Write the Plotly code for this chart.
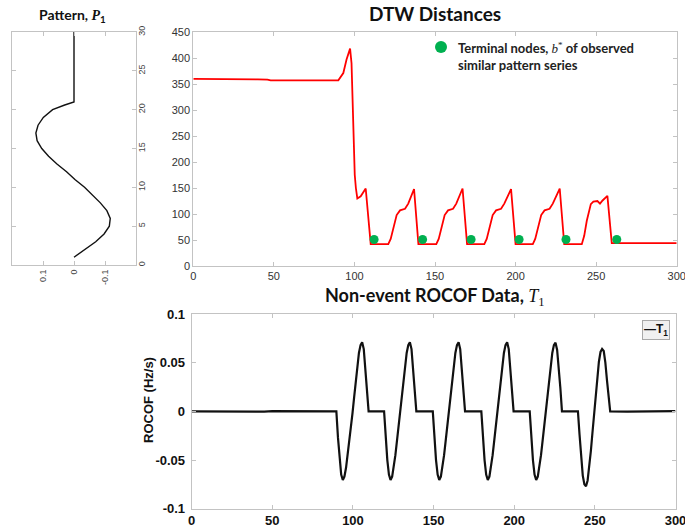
import plotly.graph_objects as go

W, H = 685, 529

# ---------------- data ----------------
# Pattern P1: ROCOF value along the pattern time index
pattern_t = [1, 2, 3, 4, 5, 6, 7, 8, 9, 10, 11, 12, 13, 14, 15, 16, 17, 18, 19, 20, 20.6, 21, 30]
pattern_v = [0, -0.037, -0.070, -0.097, -0.114, -0.117, -0.106, -0.085, -0.059, -0.034, -0.003,
             0.024, 0.055, 0.082, 0.104, 0.119, 0.123, 0.116, 0.099, 0.069, 0.030, 0, 0]

# DTW distance profile
dtw_t = [0, 20, 40, 46, 48, 90, 93.1, 95.1, 96.5, 97.3, 98.2, 98.9, 99.4, 100.2, 100.9, 101.8,
         103.9, 107.0, 110.1,
         121.0, 122.5, 124.2, 126.2, 128.3, 131.4, 133.4, 135.5, 137.0, 139.7,
         150.8, 152.3, 154.0, 156.0, 158.1, 161.2, 163.2, 165.4, 167.1, 169.9,
         180.6, 182.1, 183.8, 185.8, 187.9, 191.0, 193.0, 195.3, 197.2, 200.0,
         210.7, 212.2, 213.9, 215.9, 218.0, 221.1, 223.1, 225.4, 227.4, 230.2,
         241.1, 242.6, 244.2, 246.7, 248.3, 250.8, 252.4, 254.0, 257.0, 259.7, 300]
dtw_v = [360, 360, 359, 358.5, 357, 357, 371, 397, 412, 418, 390, 320, 240, 175, 150, 130,
         134, 149, 42,
         42, 52, 76, 98, 107, 110, 120, 136, 148, 42,
         42, 52, 76, 98, 107, 110, 120, 136, 149, 42,
         42, 52, 76, 98, 107, 110, 120, 136, 148, 42,
         42, 52, 76, 98, 107, 110, 120, 136, 149, 42,
         42, 58, 87, 119, 124, 125, 120, 126, 135, 44, 44]

# terminal nodes b* of the similar pattern series
node_t = [112.2, 142.3, 172.4, 202.2, 231.3, 262.8]
node_v = [51, 51, 51, 51, 51, 51]

# Non-event ROCOF data T1: quiet baseline, six oscillation bursts, quiet tail
base_t = [0, 25, 30, 45, 50, 89.0]
base_v = [0, 0, -0.0006, -0.0003, 0.0002, 0.0002]
burst_start = [89.7, 119.3, 149.5, 179.6, 209.6, 239.5]
burst_offset = [0, 1, 2, 3, 4, 5, 6, 7, 8, 9, 10, 11, 12, 13, 14, 15, 16, 17, 18, 19, 20]
burst_v = [
    [0, -0.027, -0.050, -0.065, -0.0705, -0.067, -0.058, -0.045, -0.030, -0.015, -0.002,
     0.014, 0.031, 0.047, 0.060, 0.068, 0.071, 0.064, 0.045, 0.024, 0],
    [0, -0.027, -0.050, -0.065, -0.0705, -0.067, -0.058, -0.045, -0.030, -0.015, -0.002,
     0.014, 0.031, 0.047, 0.060, 0.068, 0.071, 0.064, 0.045, 0.024, 0],
    [0, -0.027, -0.050, -0.065, -0.0705, -0.067, -0.058, -0.045, -0.030, -0.015, -0.002,
     0.014, 0.031, 0.047, 0.060, 0.068, 0.071, 0.064, 0.045, 0.024, 0],
    [0, -0.027, -0.050, -0.065, -0.0705, -0.067, -0.058, -0.045, -0.030, -0.015, -0.002,
     0.014, 0.031, 0.047, 0.060, 0.068, 0.071, 0.064, 0.045, 0.024, 0],
    [0, -0.027, -0.050, -0.065, -0.0705, -0.067, -0.058, -0.045, -0.030, -0.015, -0.002,
     0.014, 0.031, 0.047, 0.060, 0.068, 0.0705, 0.063, 0.045, 0.024, 0],
    [0, -0.024, -0.048, -0.066, -0.075, -0.077, -0.071, -0.058, -0.041, -0.022, -0.003,
     0.016, 0.035, 0.051, 0.061, 0.064, 0.062, 0.050, 0.032, 0.013, 0],
]
tail_t = [270, 300]
tail_v = [-0.0003, 0.0002]

rocof_t = list(base_t)
rocof_v = list(base_v)
for s, vals in zip(burst_start, burst_v):
    rocof_t += [s + o for o in burst_offset]
    rocof_v += vals
rocof_t += tail_t
rocof_v += tail_v

pattern_xticks = [0.1, 0, -0.1]
pattern_xtext = ["0.1", "0", "-0.1"]
pattern_yticks = [0, 5, 10, 15, 20, 25, 30]
rocof_yticks = [-0.1, -0.05, 0, 0.05, 0.1]
rocof_ytext = ["-0.1", "-0.05", "0", "0.05", "0.1"]
time_ticks = [0, 50, 100, 150, 200, 250, 300]
dtw_yticks = [0, 50, 100, 150, 200, 250, 300, 350, 400, 450]


# ---------------- helpers ----------------
def px_x(x):
    return x / W


def px_y(y):
    return 1 - y / H


LINE = "#c3c3c3"
TICKFONT = dict(family="Liberation Sans, Arial", size=11, color="#333333")
SMALLFONT = dict(family="Liberation Sans, Arial", size=9, color="#444444")
BOLDTICK = dict(family="Liberation Sans, Arial", size=13, color="#111111")
SERIF = "Liberation Serif, DejaVu Serif, serif"
TITLEFONT = "Lato, Open Sans, sans-serif"


def box_axis(**kw):
    base = dict(showline=True, linecolor=LINE, linewidth=1, mirror="ticks",
                ticks="inside", ticklen=4, tickcolor=LINE, tickwidth=1,
                showgrid=False, zeroline=False, fixedrange=True,
                automargin=False, ticklabeloverflow="allow")
    base.update(kw)
    return base


fig = go.Figure()

fig.add_trace(go.Scatter(x=pattern_v, y=pattern_t, mode="lines",
                         line=dict(color="#111111", width=1.4),
                         xaxis="x", yaxis="y", showlegend=False))

fig.add_trace(go.Scatter(x=dtw_t, y=dtw_v, mode="lines",
                         line=dict(color="#ff0000", width=1.8),
                         xaxis="x2", yaxis="y2", showlegend=False))

fig.add_trace(go.Scatter(x=node_t, y=node_v, mode="markers",
                         marker=dict(color="#00b050", size=9),
                         xaxis="x2", yaxis="y2", showlegend=False))

fig.add_trace(go.Scatter(x=rocof_t, y=rocof_v, mode="lines",
                         line=dict(color="#111111", width=2.2),
                         xaxis="x3", yaxis="y3", showlegend=False))

fig.update_layout(
    width=W, height=H,
    margin=dict(l=0, r=0, t=0, b=0, autoexpand=False),
    paper_bgcolor="white", plot_bgcolor="white",
    showlegend=False,
    xaxis=box_axis(domain=[px_x(12), px_x(136)], anchor="y",
                   range=[0.2, -0.2], tickvals=pattern_xticks, ticktext=pattern_xtext,
                   tickangle=-90, tickfont=SMALLFONT),
    yaxis=box_axis(domain=[px_y(265), px_y(32)], anchor="x", side="right",
                   range=[0, 30], tickvals=pattern_yticks, tickangle=-90,
                   tickfont=SMALLFONT, ticklabelstandoff=-3),
    xaxis2=box_axis(domain=[px_x(193.3), px_x(676.7)], anchor="y2",
                    range=[0, 300], tickvals=time_ticks, tickfont=TICKFONT),
    yaxis2=box_axis(domain=[px_y(266), px_y(32)], anchor="x2",
                    range=[0, 450], tickvals=dtw_yticks, tickfont=TICKFONT),
    xaxis3=box_axis(domain=[px_x(191.7), px_x(675.5)], anchor="y3",
                    range=[0, 300], tickvals=time_ticks,
                    ticktext=["<b>%d</b>" % v for v in time_ticks],
                    tickfont=BOLDTICK, ticklabelstandoff=0),
    yaxis3=box_axis(domain=[px_y(508.7), px_y(314)], anchor="x3",
                    range=[-0.1, 0.1], tickvals=rocof_yticks,
                    ticktext=["<b>%s</b>" % t for t in rocof_ytext],
                    tickfont=BOLDTICK, ticklabelstandoff=3),
)

annotations = [
    dict(x=px_x(72), y=px_y(15),
         text="<b>Pattern, </b><span style='font-family:%s'><b><i>P</i></b></span><b><sub>1</sub></b>" % SERIF,
         font=dict(family=TITLEFONT, size=14, color="#111111")),
    dict(x=px_x(435), y=px_y(13), text="<b>DTW Distances</b>",
         font=dict(family=TITLEFONT, size=19, color="#111111")),
    dict(x=px_x(435), y=px_y(296),
         text="<b>Non-event ROCOF Data, </b><span style='font-family:%s'><i>T</i><sub>1</sub></span>" % SERIF,
         font=dict(family=TITLEFONT, size=18, color="#111111")),
    dict(x=px_x(456), y=px_y(56), xanchor="left",
         text="<b>Terminal nodes, </b><span style='font-family:%s'><i>b</i><sup>*</sup></span><b> of observed</b>"
              "<br><b>similar pattern series</b>" % SERIF,
         align="left", font=dict(family=TITLEFONT, size=13, color="#222222")),
    dict(x=px_x(148), y=px_y(400), text="<b>ROCOF (Hz/s)</b>", textangle=-90,
         font=dict(family="Liberation Sans, Arial", size=13, color="#111111")),
    dict(x=px_x(656), y=px_y(329.5), text="<b>\u2014T<sub>1</sub></b>",
         bgcolor="#f0f0f0", bordercolor="#a8a8a8", borderwidth=1, borderpad=1,
         font=dict(family="Liberation Sans, Arial", size=12, color="#111111")),
]
for a in annotations:
    a.setdefault("xref", "paper")
    a.setdefault("yref", "paper")
    a.setdefault("showarrow", False)
    a.setdefault("xanchor", "center")
    a.setdefault("yanchor", "middle")
fig.update_layout(annotations=annotations)

# legend marker for the terminal nodes
r = 6
fig.add_shape(type="circle", xref="paper", yref="paper",
              x0=px_x(441 - r), x1=px_x(441 + r), y0=px_y(47 + r), y1=px_y(47 - r),
              fillcolor="#00b050", line=dict(width=0))

fig.write_html("out.html")
